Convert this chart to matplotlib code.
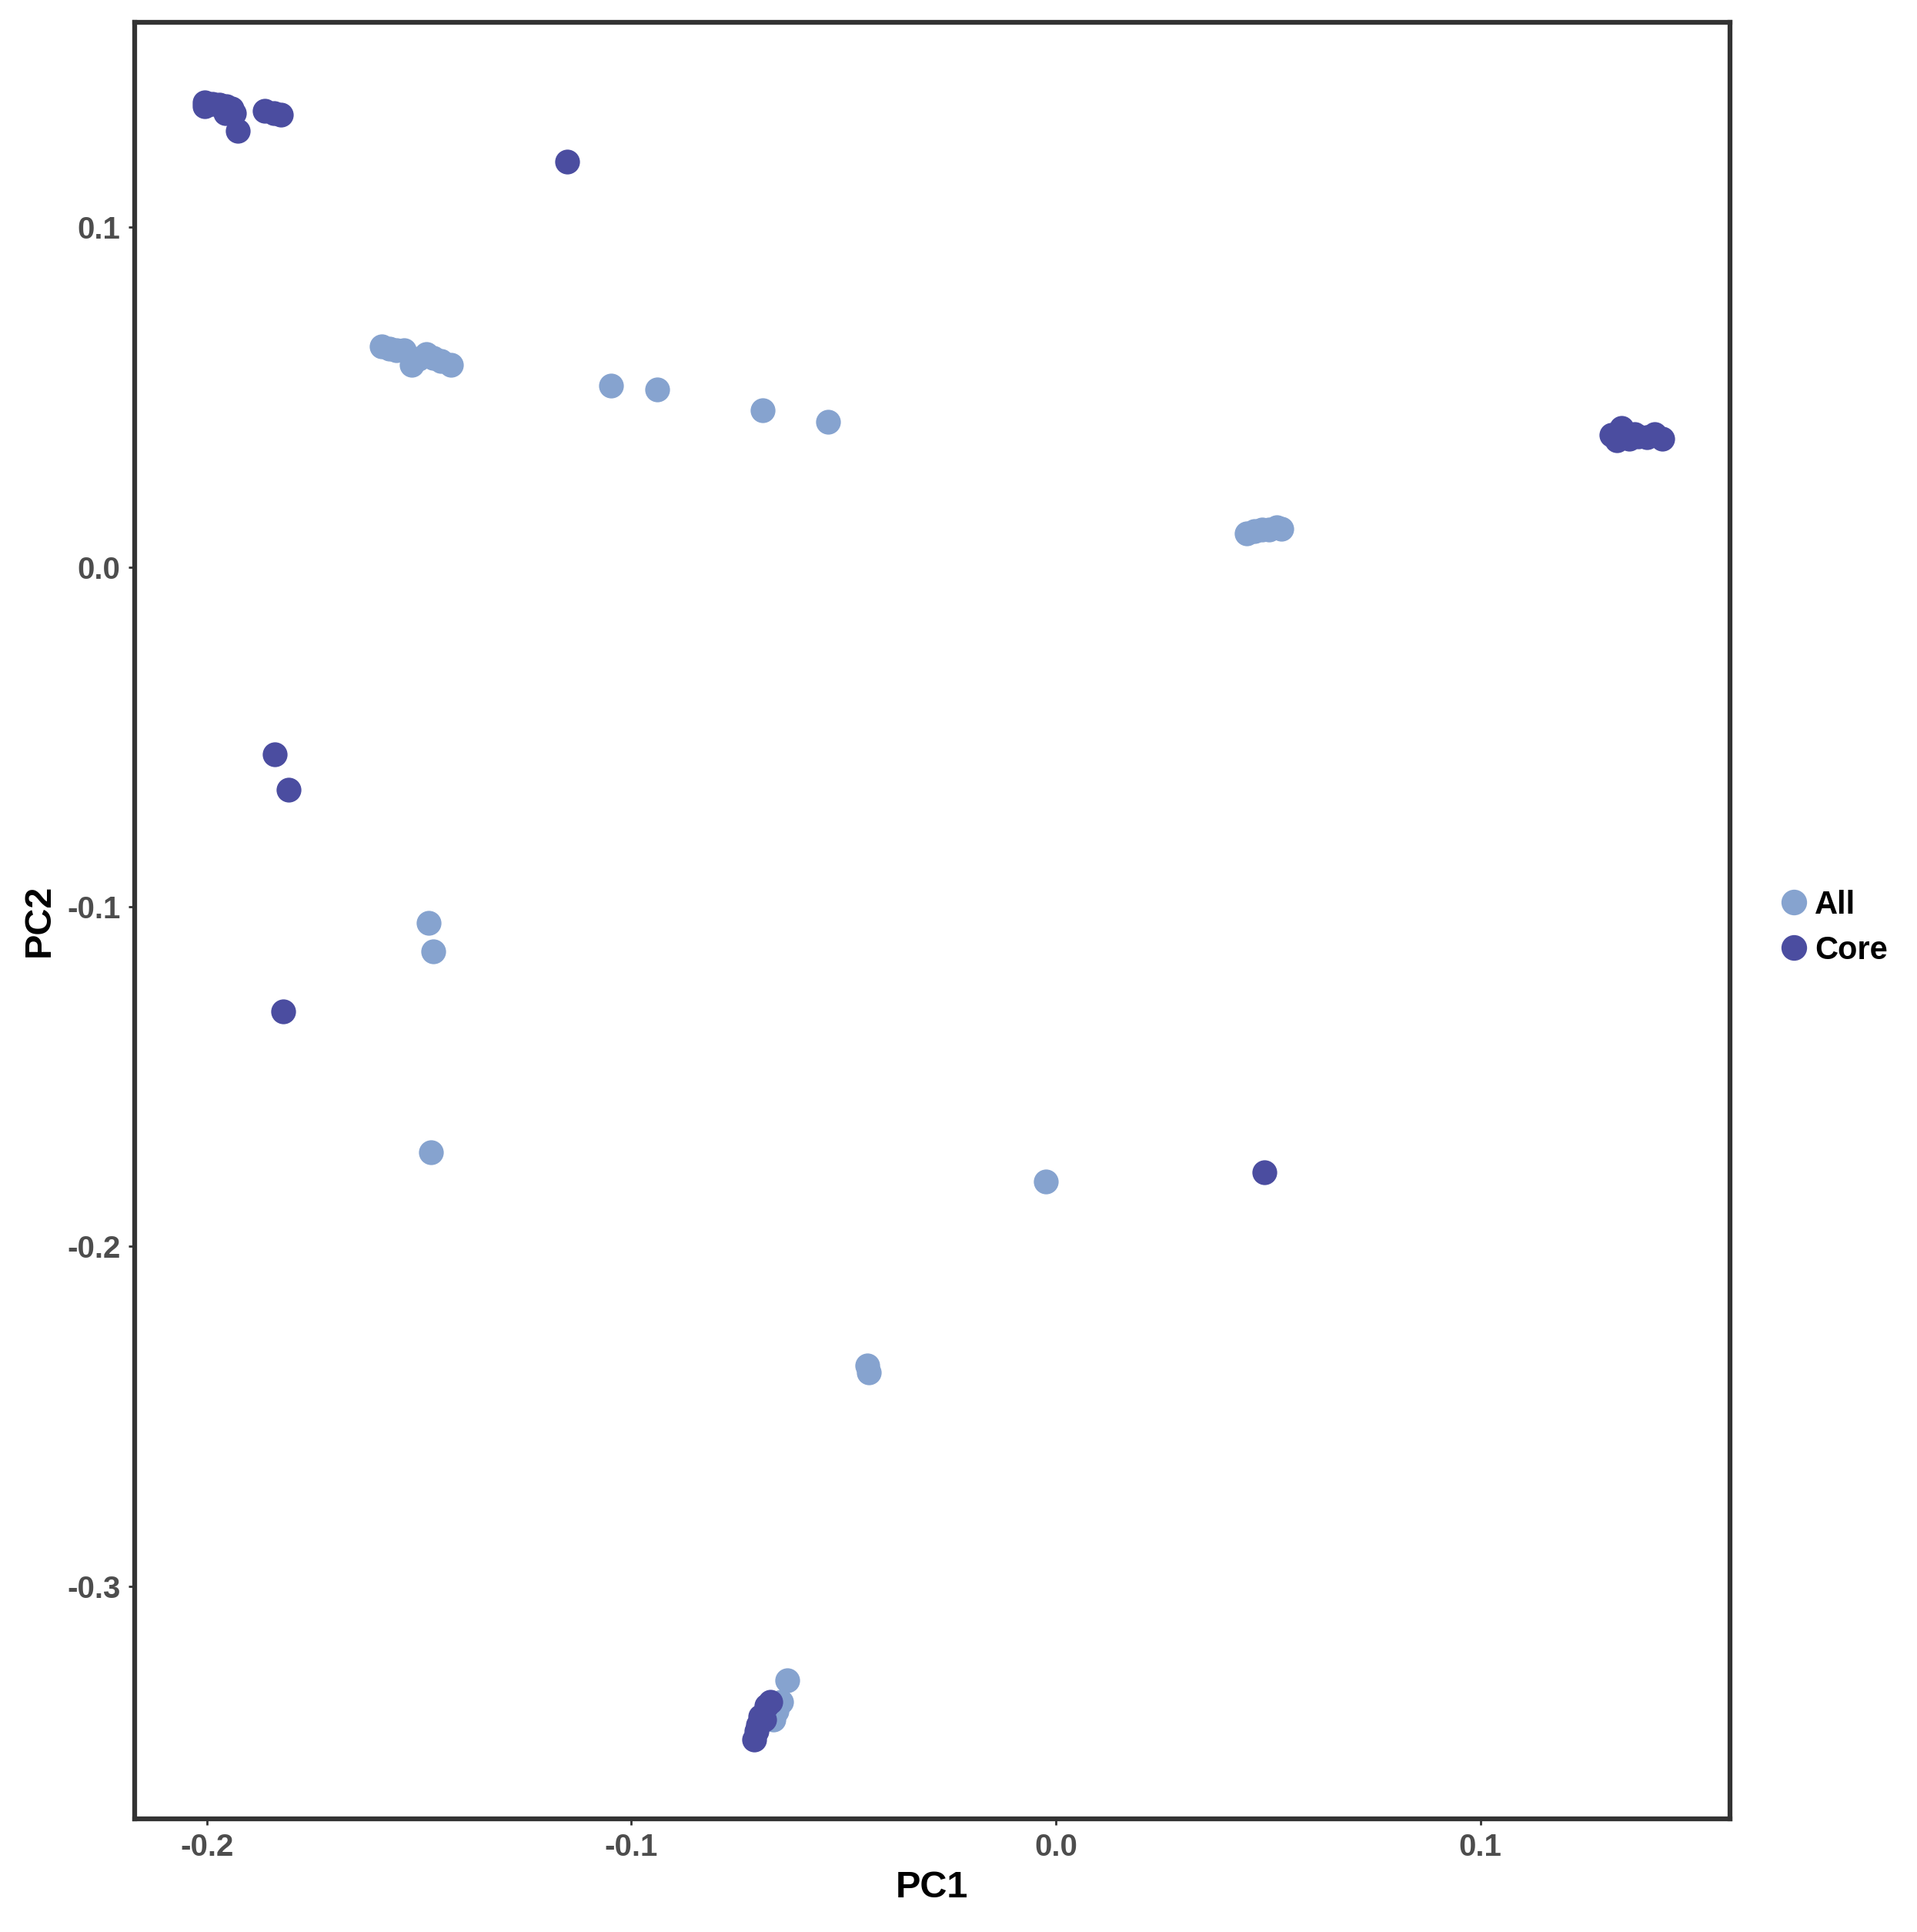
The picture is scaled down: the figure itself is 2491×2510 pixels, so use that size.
import matplotlib
matplotlib.use("Agg")
import matplotlib.pyplot as plt
from matplotlib.lines import Line2D

plt.rcParams['font.family'] = ['Liberation Sans', 'DejaVu Sans']

# PCA coordinates
all_pc1 = [-0.1588, -0.1570, -0.1553, -0.1536, -0.1518, -0.1501, -0.1483, -0.1466,
           -0.1448, -0.1425, -0.1048, -0.0940, -0.0691, -0.0537,
           0.0450, 0.0467, 0.0485, 0.0502, 0.0520, 0.0531,
           -0.1478, -0.1466, -0.1472, -0.0023, -0.0444, -0.0441,
           -0.0633, -0.0647, -0.0659, -0.0665]
all_pc2 = [0.0649, 0.0642, 0.0638, 0.0638, 0.0595, 0.0613, 0.0627, 0.0616,
           0.0606, 0.0595, 0.0533, 0.0522, 0.0461, 0.0428,
           0.0098, 0.0105, 0.0109, 0.0109, 0.0116, 0.0112,
           -0.1048, -0.1131, -0.1723, -0.1810, -0.2350, -0.2372,
           -0.3278, -0.3340, -0.3369, -0.3394]

core_pc1 = [-0.2006, -0.1988, -0.1971, -0.1954, -0.1942, -0.1956, -0.1936, -0.1927,
            -0.2006, -0.1864, -0.1843, -0.1826, -0.1152,
            -0.1840, -0.1808, -0.1820, 0.0491,
            0.1309, 0.1332, 0.1350, 0.1373, 0.1393, 0.1411, 0.1428, 0.1321, 0.1364,
            -0.0711, -0.0705, -0.0702, -0.0697, -0.0688, -0.0682, -0.0673]
core_pc2 = [0.1367, 0.1364, 0.1360, 0.1356, 0.1349, 0.1335, 0.1335, 0.1284,
            0.1356, 0.1342, 0.1335, 0.1331, 0.1193,
            -0.0551, -0.0656, -0.1309, -0.1781,
            0.0388, 0.0410, 0.0377, 0.0384, 0.0381, 0.0392, 0.0377, 0.0374, 0.0392,
            -0.3452, -0.3427, -0.3409, -0.3383, -0.3394, -0.3351, -0.3340]

groups = ["All", "Core"]
colors = ["#86A3CF", "#4B4DA0"]

fig = plt.figure(figsize=(24.91, 25.10), dpi=100)
ax = fig.add_axes([0.0701, 0.0586, 0.8323, 0.9298])

ax.scatter(all_pc1, all_pc2, s=540, color=colors[0], linewidths=0, zorder=2)
ax.scatter(core_pc1, core_pc2, s=540, color=colors[1], linewidths=0, zorder=3)

ax.set_xlim(-0.2171, 0.1588)
ax.set_ylim(-0.3685, 0.1603)
ax.set_xticks([-0.2, -0.1, 0.0, 0.1])
ax.set_yticks([0.1, 0.0, -0.1, -0.2, -0.3])
ax.set_xticklabels(["-0.2", "-0.1", "0.0", "0.1"])
ax.set_yticklabels(["0.1", "0.0", "-0.1", "-0.2", "-0.3"])

for sp in ax.spines.values():
    sp.set_linewidth(4.5)
    sp.set_color("#333333")
ax.tick_params(length=6, width=2, color="#333333", labelcolor="#4D4D4D",
               labelsize=29, pad=7)
for lab in ax.get_xticklabels() + ax.get_yticklabels():
    lab.set_fontweight("bold")

ax.set_xlabel("PC1", fontsize=35, fontweight="bold", labelpad=8)
ax.set_ylabel("PC2", fontsize=35, fontweight="bold", labelpad=10)

handles = [Line2D([], [], marker="o", linestyle="", markersize=24,
                  markerfacecolor=c, markeredgewidth=0) for c in colors]
ax.legend(handles, groups, loc="center left", bbox_to_anchor=(1.01, 0.496),
          frameon=False, prop={"size": 30, "weight": "bold"},
          handletextpad=0.05, labelspacing=0.45, handlelength=1.2)

fig.savefig("out.png", dpi=100, facecolor="white")
